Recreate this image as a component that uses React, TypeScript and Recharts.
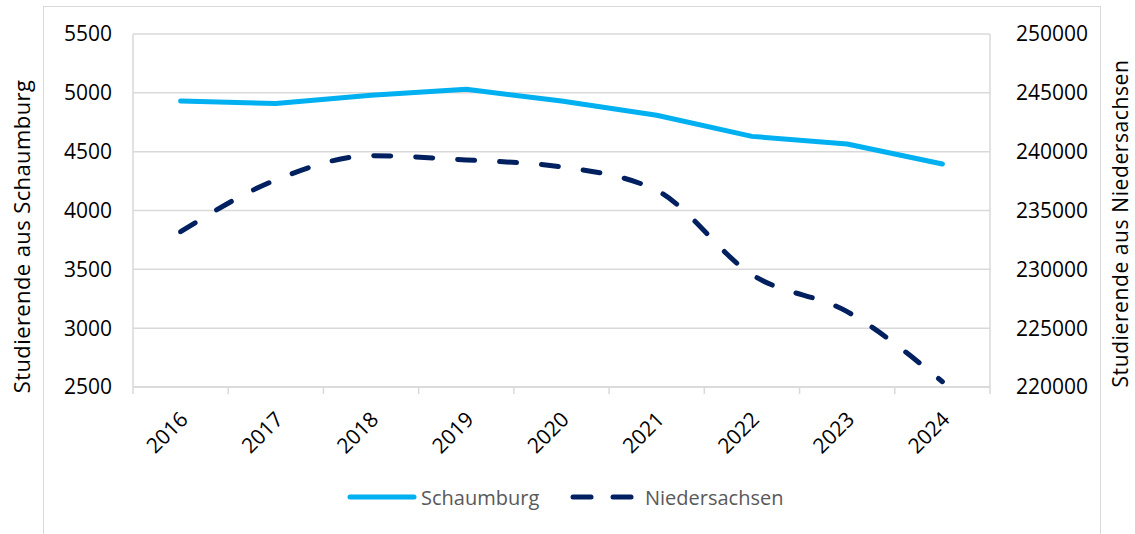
import React from 'react';
import { LineChart, Line, XAxis, YAxis, CartesianGrid, Legend } from 'recharts';

const years = ['2016', '2017', '2018', '2019', '2020', '2021', '2022', '2023', '2024'];
const schaumburg = [4930, 4910, 4980, 5030, 4930, 4810, 4630, 4565, 4395];
const niedersachsen = [233200, 237600, 239650, 239300, 238700, 236700, 229550, 226400, 220450];
const leftTicks = [2500, 3000, 3500, 4000, 4500, 5000, 5500];
const rightTicks = [220000, 225000, 230000, 235000, 240000, 245000, 250000];
const seriesNames = ['Schaumburg', 'Niedersachsen'];
const axisTitles = ['Studierende aus Schaumburg', 'Studierende aus Niedersachsen'];

const data = years.map((y, i) => ({ year: y, schaumburg: schaumburg[i], niedersachsen: niedersachsen[i] }));

const W = 1135;
const H = 534;
const LEFT_W = 133;
const RIGHT_W = 145;
const PLOT_W = W - LEFT_W - RIGHT_W;
const STEP = PLOT_W / years.length;
const FONT = "'Open Sans', 'Noto Sans', sans-serif";
const GRID = '#d9d9d9';
const C1 = '#00b0f0';
const C2 = '#002060';

const XTick = (props: any) => {
  const { x, y, payload, index } = props;
  return (
    <g>
      <line x1={x - STEP / 2} y1={y} x2={x - STEP / 2} y2={y + 7} stroke={GRID} strokeWidth={1.5} />
      {index === years.length - 1 && (
        <line x1={x + STEP / 2} y1={y} x2={x + STEP / 2} y2={y + 7} stroke={GRID} strokeWidth={1.5} />
      )}
      <text
        x={x + 3}
        y={y + 28}
        transform={`rotate(-45 ${x + 3} ${y + 28})`}
        textAnchor="end"
        dominantBaseline="central"
        fill="#000"
        fontSize={21}
        fontFamily={FONT}
      >
        {payload.value}
      </text>
    </g>
  );
};

const LeftTitle = (props: any) => {
  const vb = props.viewBox;
  const cx = vb.x + 21;
  const cy = vb.y + vb.height / 2 + 26;
  return (
    <text x={cx} y={cy} transform={`rotate(-90 ${cx} ${cy})`} textAnchor="middle" dominantBaseline="central" fill="#000" fontSize={22} letterSpacing={0.4} fontFamily={FONT}>
      {axisTitles[0]}
    </text>
  );
};

const RightTitle = (props: any) => {
  const vb = props.viewBox;
  const cx = vb.x + 130;
  const cy = vb.y + vb.height / 2 + 13;
  return (
    <text x={cx} y={cy} transform={`rotate(-90 ${cx} ${cy})`} textAnchor="middle" dominantBaseline="central" fill="#000" fontSize={21} letterSpacing={0.6} fontFamily={FONT}>
      {axisTitles[1]}
    </text>
  );
};

const LegendContent = () => (
  <svg width={W} height={30} style={{ display: 'block' }}>
    <line x1={350} y1={15} x2={414} y2={15} stroke={C1} strokeWidth={5} strokeLinecap="round" />
    <text x={421} y={15} dominantBaseline="central" fill="#595959" fontSize={20} fontFamily={FONT}>
      {seriesNames[0]}
    </text>
    <line x1={573} y1={15} x2={591} y2={15} stroke={C2} strokeWidth={5} strokeLinecap="round" />
    <line x1={613} y1={15} x2={631} y2={15} stroke={C2} strokeWidth={5} strokeLinecap="round" />
    <text x={645} y={15} dominantBaseline="central" fill="#595959" fontSize={20} fontFamily={FONT}>
      {seriesNames[1]}
    </text>
  </svg>
);

export default function App() {
  return (
    <div style={{ position: 'absolute', left: 0, top: 0, width: W, height: H, overflow: 'hidden', background: '#fff', fontFamily: FONT }}>
      <div style={{ position: 'absolute', left: 43, top: 6, width: 1058, height: 600, border: `1.5px solid ${GRID}`, boxSizing: 'border-box' }} />
      <div style={{ position: 'absolute', left: 0, top: 0 }}>
        <LineChart width={W} height={H} data={data} margin={{ top: 34, right: 0, bottom: 0, left: 0 }}>
          <CartesianGrid vertical={false} stroke={GRID} strokeWidth={1.5} yAxisId="left" />
          <XAxis
            dataKey="year"
            height={147}
            interval={0}
            padding={{ left: STEP / 2, right: STEP / 2 }}
            tickLine={false}
            tickSize={0}
            tickMargin={0}
            axisLine={{ stroke: GRID, strokeWidth: 1.5 }}
            tick={<XTick />}
          />
          <YAxis
            yAxisId="left"
            width={LEFT_W}
            domain={[2500, 5500]}
            ticks={leftTicks}
            allowDataOverflow
            tickLine={false}
            tickSize={0}
            tickMargin={21}
            axisLine={{ stroke: GRID, strokeWidth: 1.5 }}
            tick={{ fill: '#000', fontSize: 21, fontFamily: FONT }}
            label={<LeftTitle />}
          />
          <YAxis
            yAxisId="right"
            orientation="right"
            width={RIGHT_W}
            domain={[220000, 250000]}
            ticks={rightTicks}
            allowDataOverflow
            tickLine={false}
            tickSize={0}
            tickMargin={26}
            axisLine={{ stroke: GRID, strokeWidth: 1.5 }}
            tick={{ fill: '#000', fontSize: 21, fontFamily: FONT }}
            label={<RightTitle />}
          />
          <Legend
            verticalAlign="middle"
            layout="horizontal"
            wrapperStyle={{ top: 482, left: 0, width: W }}
            content={<LegendContent />}
          />
          <Line
            yAxisId="left"
            dataKey="schaumburg"
            name={seriesNames[0]}
            type="linear"
            stroke={C1}
            strokeWidth={5}
            strokeLinecap="round"
            strokeLinejoin="round"
            dot={false}
            activeDot={false}
            isAnimationActive={false}
          />
          <Line
            yAxisId="right"
            dataKey="niedersachsen"
            name={seriesNames[1]}
            type="monotone"
            stroke={C2}
            strokeWidth={5}
            strokeLinecap="round"
            strokeDasharray="17 25"
            dot={false}
            activeDot={false}
            isAnimationActive={false}
          />
        </LineChart>
      </div>
    </div>
  );
}
